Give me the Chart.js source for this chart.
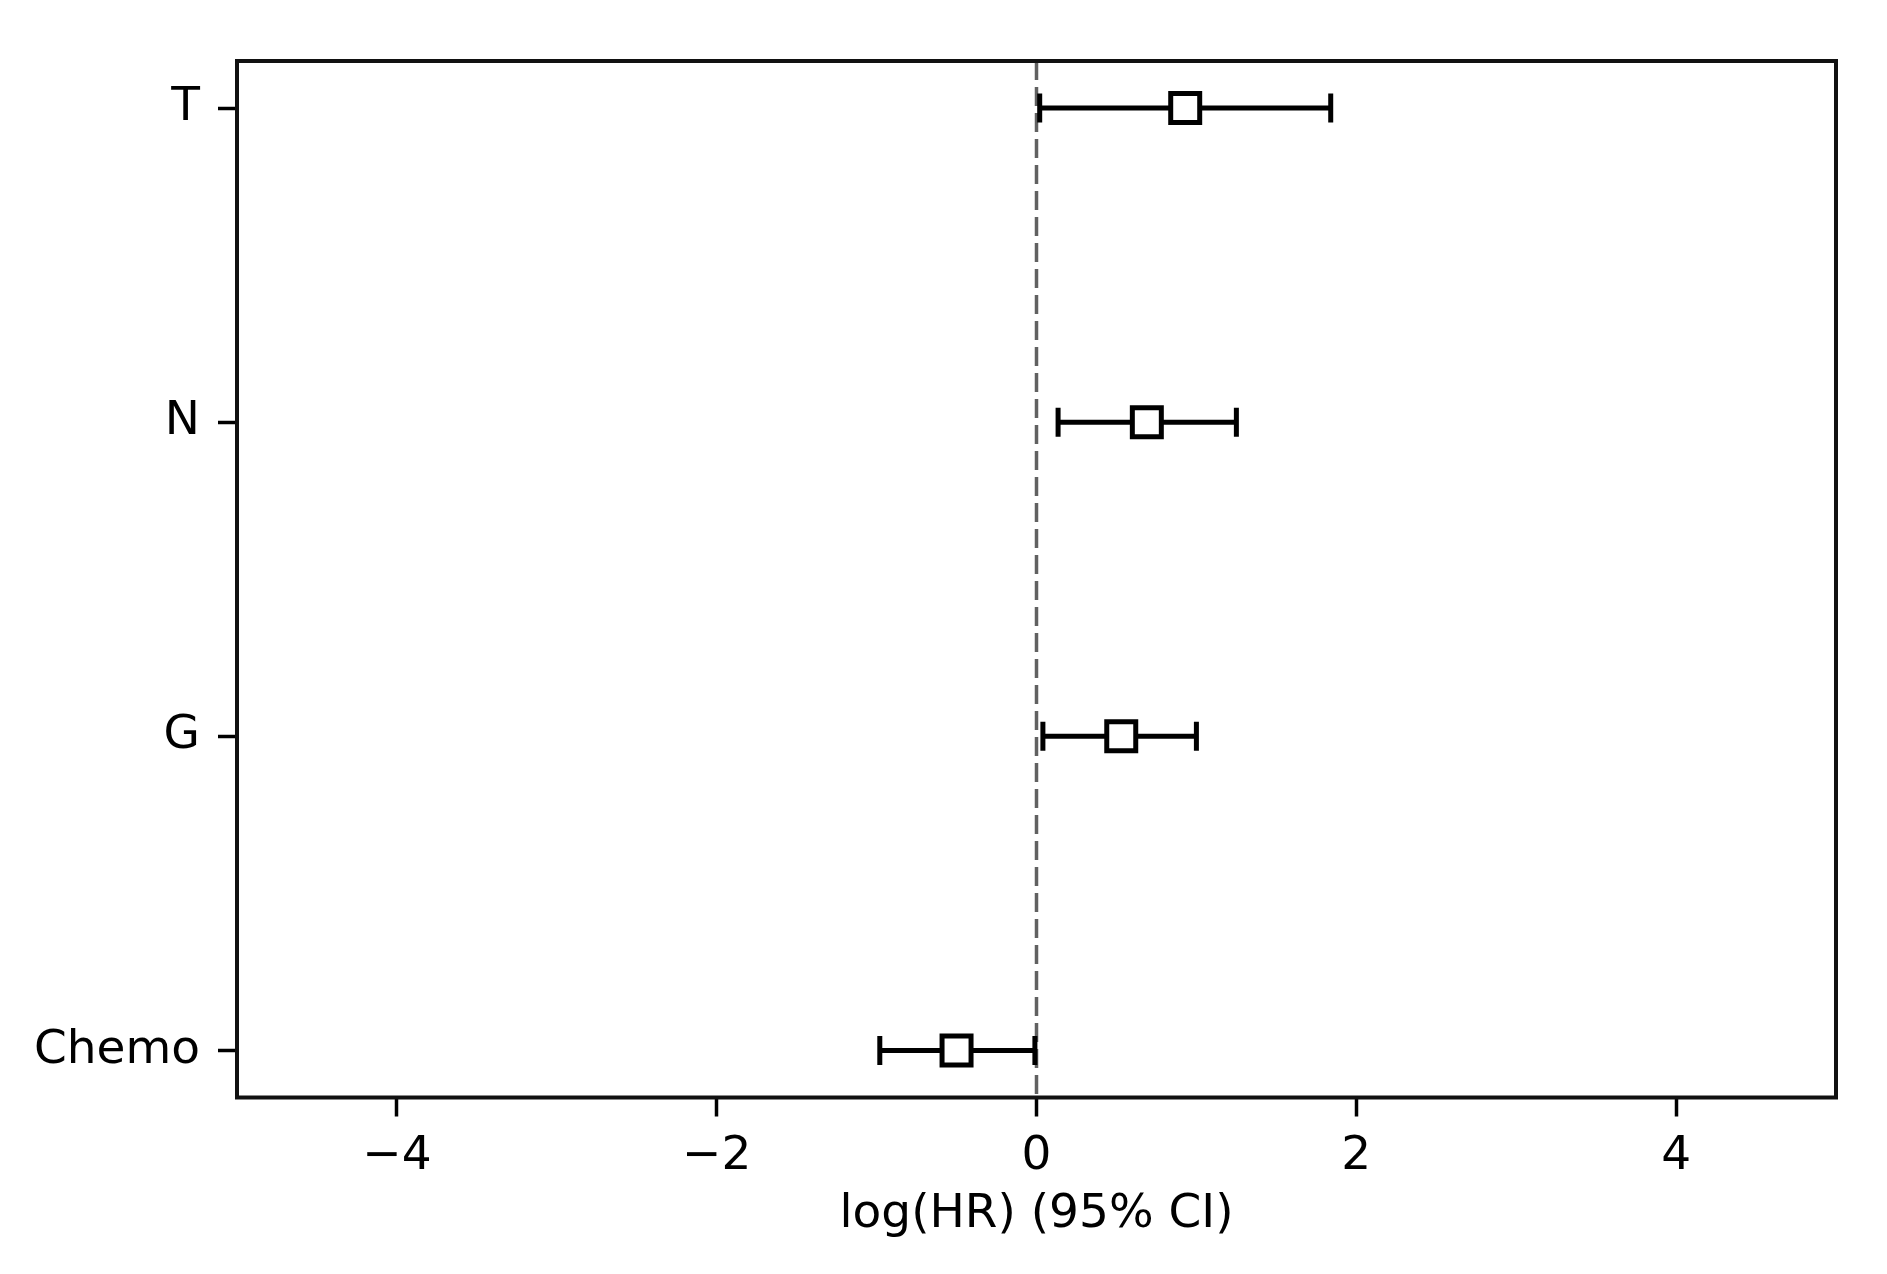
<!DOCTYPE html>
<html>
<head>
<meta charset="utf-8">
<script src="https://cdn.jsdelivr.net/npm/chart.js@4"></script>
<style>
  html, body { margin: 0; padding: 0; background: #fff; }
  canvas { display: block; }
</style>
</head>
<body>
<canvas id="forest" width="1887" height="1274"></canvas>
<script>
// values (log hazard ratio, 95% CI)
const categories = ['T', 'N', 'G', 'Chemo'];
const estimate = [0.93, 0.69, 0.53, -0.50];
const lower = [0.02, 0.135, 0.04, -0.98];
const upper = [1.84, 1.25, 1.00, -0.01];
const xTicks = [-4, -2, 0, 2, 4];
const xTitle = 'log(HR) (95% CI)';

const FONT = '"DejaVu Sans", "Liberation Sans", sans-serif';
const yPos = categories.map((c, i) => categories.length - 1 - i);

// one line per row for the CI whiskers, caps are the end points
const ciSets = categories.map((c, i) => ({
  type: 'line',
  label: c + ' CI',
  data: [{ x: lower[i], y: yPos[i] }, { x: upper[i], y: yPos[i] }],
  borderColor: '#000',
  borderWidth: 5,
  pointStyle: 'line',
  rotation: 90,
  pointRadius: 14.5,
  pointBorderWidth: 5,
  pointBorderColor: '#000',
  order: 2
}));

const markerSet = {
  type: 'scatter',
  label: 'log(HR)',
  data: categories.map((c, i) => ({ x: estimate[i], y: yPos[i] })),
  pointStyle: 'rect',
  pointRadius: 20.5,
  pointBorderWidth: 5,
  pointBorderColor: '#000',
  pointBackgroundColor: '#fff',
  order: 1
};

const zeroLine = {
  id: 'zeroLine',
  beforeDatasetsDraw(chart) {
    const { ctx, chartArea, scales } = chart;
    const x = scales.x.getPixelForValue(0);
    ctx.save();
    ctx.strokeStyle = 'rgba(0,0,0,0.62)';
    ctx.lineWidth = 3.5;
    ctx.setLineDash([19, 7]);
    ctx.beginPath();
    ctx.moveTo(x, chartArea.top);
    ctx.lineTo(x, chartArea.bottom);
    ctx.stroke();
    ctx.restore();
  }
};

const frame = {
  id: 'frame',
  afterDraw(chart) {
    const { ctx, chartArea } = chart;
    ctx.save();
    ctx.strokeStyle = '#111';
    ctx.lineWidth = 4;
    ctx.strokeRect(chartArea.left, chartArea.top,
      chartArea.right - chartArea.left, chartArea.bottom - chartArea.top);
    ctx.restore();
  }
};

new Chart(document.getElementById('forest'), {
  data: { datasets: [...ciSets, markerSet] },
  options: {
    responsive: false,
    animation: false,
    devicePixelRatio: 1,
    layout: { padding: { top: 61, right: 51, left: 0, bottom: 0 } },
    plugins: {
      legend: { display: false },
      tooltip: { enabled: false }
    },
    scales: {
      x: {
        type: 'linear',
        min: -5,
        max: 5,
        afterBuildTicks: (s) => { s.ticks = xTicks.map(v => ({ value: v })); },
        afterFit: (s) => { s.height = 176.5; },
        border: { display: false },
        grid: {
          drawOnChartArea: false,
          drawTicks: true,
          tickLength: 19,
          tickWidth: 3.5,
          tickColor: '#000'
        },
        ticks: {
          color: '#000',
          padding: 12,
          maxRotation: 0,
          font: { family: FONT, size: 47 },
          callback: (v) => v < 0 ? '\u2212' + Math.abs(v) : String(v)
        },
        title: {
          display: true,
          text: xTitle,
          color: '#000',
          font: { family: FONT, size: 47 },
          padding: { top: 0, bottom: 31 }
        }
      },
      y: {
        type: 'linear',
        min: -0.15,
        max: 3.15,
        afterBuildTicks: (s) => { s.ticks = yPos.map(v => ({ value: v })); },
        afterFit: (s) => { s.width = 237; },
        border: { display: false },
        grid: {
          drawOnChartArea: false,
          drawTicks: true,
          tickLength: 19,
          tickWidth: 3.5,
          tickColor: '#000'
        },
        ticks: {
          color: '#000',
          padding: 18,
          font: { family: FONT, size: 47 },
          callback: (v) => {
            const i = yPos.indexOf(v);
            return i >= 0 ? categories[i] : '';
          }
        }
      }
    }
  },
  plugins: [zeroLine, frame]
});
</script>
</body>
</html>
